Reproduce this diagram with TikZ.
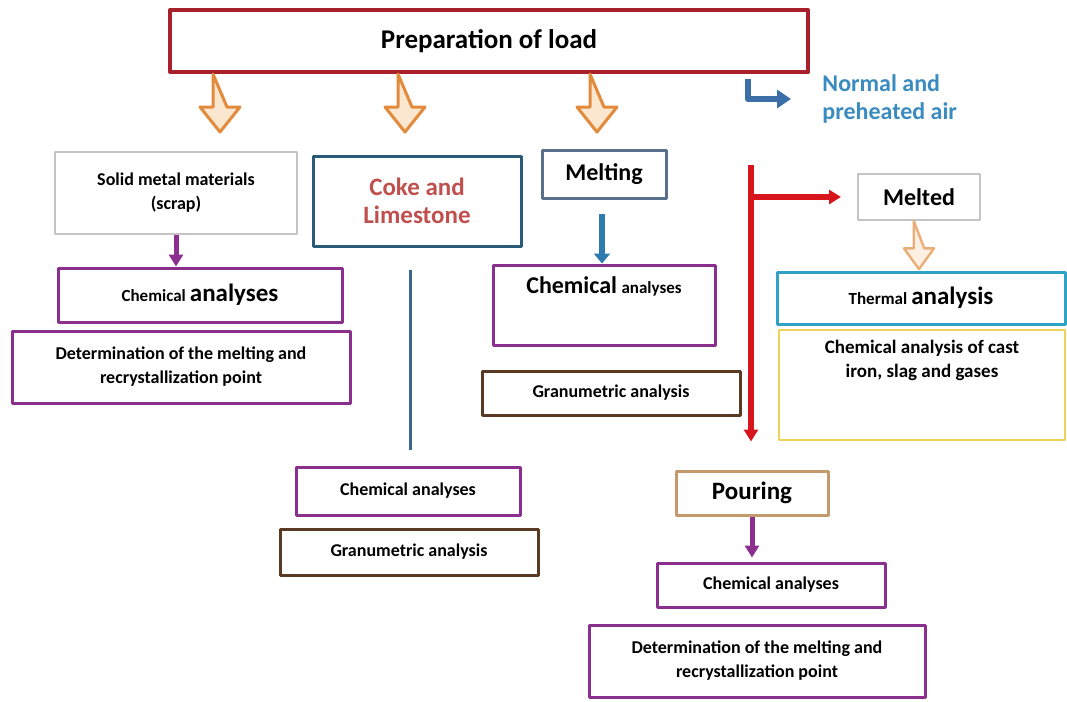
\documentclass[tikz,border=0pt]{standalone}
\usepackage{fontspec}
\setmainfont{Carlito}
\usetikzlibrary{arrows.meta,positioning}
\definecolor{prepred}{HTML}{A8202C}
\definecolor{hollorange}{HTML}{E38B3C}
\definecolor{hollfill}{HTML}{FBE6CF}
\definecolor{airblue}{HTML}{3A8CC0}
\definecolor{elbowblue}{HTML}{3C6EA8}
\definecolor{cokeblue}{HTML}{2A5A78}
\definecolor{cokered}{HTML}{C0504D}
\definecolor{meltgray}{HTML}{58708C}
\definecolor{lightgray}{HTML}{C4C4C4}
\definecolor{linered}{HTML}{D6151D}
\definecolor{purp}{HTML}{8B2F8F}
\definecolor{brownbox}{HTML}{5A3A22}
\definecolor{thermcyan}{HTML}{2FA3C6}
\definecolor{castgold}{HTML}{EDD35A}
\definecolor{pourbrown}{HTML}{C49A6C}
\definecolor{thinblue}{HTML}{3D6490}
\definecolor{arrblue}{HTML}{2E7BB0}
\newcommand{\smf}{\fontsize{9}{12}\selectfont}
\newcommand{\mdf}{\fontsize{12}{14}\selectfont}

\begin{document}
\begin{tikzpicture}[x=0.5pt,y=-0.5pt,thick,line join=round,
  box/.style={draw,rectangle,inner sep=2pt,align=center,font=\bfseries\smf,line width=1.5pt},
  hollow/.pic={\draw[pic actions] (-7,0) -- (-7,33) -- (-20,33) -- (0,58) -- (20,33) -- (7,33) -- cycle;},
  purparr/.style={draw=purp,line width=2.5pt,-{Triangle[length=6pt,width=7pt]}},
  redarr/.style={draw=linered,line width=3pt,-{Triangle[length=6pt,width=7pt]}}]
  \fill[white] (0,0) rectangle (1067,702);
  \node (prep) at (489,41) [box,draw=prepred,line width=2pt,minimum width=319pt,minimum height=31pt,font=\bfseries\fontsize{13.5}{16}\selectfont] {Preparation of load};
  \pic[draw=hollorange,fill=hollfill,line width=1.5pt] at (220,74) {hollow};
  \pic[draw=hollorange,fill=hollfill,line width=1.5pt] at (405,74) {hollow};
  \pic[draw=hollorange,fill=hollfill,line width=1.5pt] at (597,74) {hollow};
  \node (air) at (815,99) [anchor=west,align=left,text=airblue,font=\bfseries\mdf] {Normal and\\preheated air};
  \coordinate (airs) at (748,79);
  \draw[elbowblue,line width=3pt,-{Triangle[length=7pt,width=9pt]}] (airs) |- ([xshift=-12pt]air.west);
  \node (solid) at (176,193) [box,draw=lightgray,line width=1pt,minimum width=121pt,minimum height=41pt] {Solid metal materials\\(scrap)};
  \node (coke) at (417,201) [box,draw=cokeblue,minimum width=104pt,minimum height=45pt,text=cokered,font=\bfseries\fontsize{12.5}{14}\selectfont] {Coke and\\Limestone};
  \node (melting) at (604,174) [box,draw=meltgray,minimum width=62pt,minimum height=24pt,font=\bfseries\mdf] {Melting};
  \node (melted) at (919,197) [box,draw=lightgray,line width=1pt,minimum width=61pt,minimum height=23pt,font=\bfseries\mdf] {Melted};
  \coordinate (rtop) at (751,165);
  \node (chem1) at (200,295) [box,draw=purp,minimum width=142pt,minimum height=27pt] {{\fontsize{8.5}{10}\selectfont Chemical} {\fontsize{12.5}{14}\selectfont analyses}};
  \node (det1) at (181,367) [box,draw=purp,minimum width=169pt,minimum height=36pt] {Determination of the melting and\\recrystallization point};
  \node (chem2) at (604,305) [box,draw=purp,minimum width=111pt,minimum height=40pt] {};
  \node (chem2t) [below=3pt of chem2.north,font=\bfseries] {{\fontsize{12}{14}\selectfont Chemical} {\fontsize{8.5}{10}\selectfont analyses}};
  \node (gran1) at (611,393) [box,draw=brownbox,minimum width=129pt,minimum height=22pt] {Granumetric analysis};
  \node (thermal) at (921,298) [box,draw=thermcyan,minimum width=144pt,minimum height=26pt] {{\fontsize{8.5}{10}\selectfont Thermal} {\fontsize{12.5}{14}\selectfont analysis}};
  \node (cast) at (922,385) [box,draw=castgold,line width=1pt,minimum width=143pt,minimum height=55pt] {};
  \node (castt) [below=2pt of cast.north,align=center,font=\bfseries\fontsize{9.5}{12}\selectfont] {Chemical analysis of cast\\iron, slag and gases};
  \node (chem3) at (408,491) [box,draw=purp,minimum width=112pt,minimum height=24pt] {Chemical analyses};
  \node (gran2) at (409,552) [box,draw=brownbox,minimum width=129pt,minimum height=23pt] {Granumetric analysis};
  \node (pouring) at (752,493) [box,draw=pourbrown,minimum width=76pt,minimum height=22pt,font=\bfseries\fontsize{12.5}{14}\selectfont] {Pouring};
  \node (chem4) at (771,585) [box,draw=purp,minimum width=114pt,minimum height=22pt] {Chemical analyses};
  \node (det2) at (757,661) [box,draw=purp,minimum width=168pt,minimum height=36pt] {Determination of the melting and\\recrystallization point};
  \draw[purparr] (solid.south) -- (solid.south |- chem1.north);
  \draw[thinblue,line width=1.5pt] ([xshift=-3.5pt,yshift=-11pt]coke.south) -- ([xshift=-3.5pt,yshift=8pt]coke.south |- chem3.north);
  \draw[arrblue,line width=3pt,-{Triangle[length=5pt,width=8pt]}] ([yshift=-7pt]melting.south -| 602,0) -- (602,0 |- chem2.north);
  \draw[redarr] (rtop) -- (rtop |- pouring.north) [shorten >=14pt];
  \draw[redarr] (rtop |- melted) -- (melted.west) [shorten >=8pt];
  \pic[draw=hollorange!70,fill=hollfill!60,line width=1.2pt,xscale=0.75,yscale=0.83] at (melted.south) {hollow};
  \draw[purparr] (pouring.south) -- (pouring.south |- chem4.north) [shorten >=2pt];
\end{tikzpicture}
\end{document}
